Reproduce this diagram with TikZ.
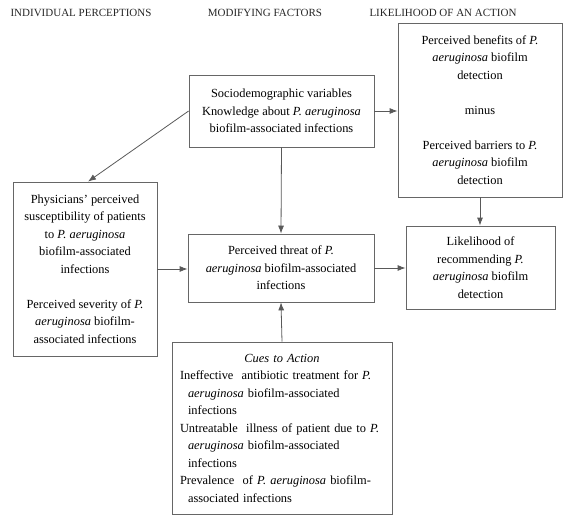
\documentclass[tikz,border=0pt]{standalone}
\usepackage{fontspec}
\setmainfont{Liberation Serif}
\usetikzlibrary{arrows.meta}
\begin{document}
\begin{tikzpicture}[x=1pt,y=-1pt,
  box/.style={draw=black!60, line width=0.8pt, inner sep=0pt, align=center,
    font=\fontsize{12.4}{17.5}\selectfont},
  hdr/.style={anchor=base, inner sep=0pt, font=\fontsize{11}{13}\selectfont, text=black!85},
  arr/.style={draw=black!65, line width=0.8pt, -{Latex[length=8pt,width=6pt]}}]
\useasboundingbox (0,0) rectangle (565,516);

\node[hdr] (h1) at (81,17) {INDIVIDUAL PERCEPTIONS};
\node[hdr] (h2) at (265,17) {MODIFYING FACTORS};
\node[hdr] (h3) at (443,17) {LIKELIHOOD OF AN ACTION};

\node[box, minimum width=185pt, minimum height=72pt] (socio) at (281.5,111)
  {Sociodemographic variables\\Knowledge about \textit{P. aeruginosa}\\biofilm-associated infections};

\node[box, minimum width=164pt, minimum height=174pt] (ben) at (480,110)
  {Perceived benefits of \textit{P.}\\\textit{aeruginosa} biofilm\\detection\\[17.5pt]minus\\[17.5pt]Perceived barriers to \textit{P.}\\\textit{aeruginosa} biofilm\\detection};

\node[box, minimum width=149pt, minimum height=83pt] (like) at (480.5,267.5)
  {Likelihood of\\recommending \textit{P.}\\\textit{aeruginosa} biofilm\\detection};

\node[box, minimum width=144pt, minimum height=174pt] (phys) at (85,269)
  {Physicians' perceived\\susceptibility of patients\\to \textit{P. aeruginosa}\\biofilm-associated\\infections\\[17.5pt]Perceived severity of \textit{P.}\\\textit{aeruginosa} biofilm-\\associated infections};

\node[box, minimum width=186pt, minimum height=68pt] (threat) at (281,268)
  {Perceived threat of \textit{P.}\\\textit{aeruginosa} biofilm-associated\\infections};

\node[box, align=left, text width=204pt, minimum width=220pt, minimum height=172pt] (cues) at (282,428)
  {\makebox[204pt]{\textit{Cues to Action}}\\
   Ineffective\ \ antibiotic treatment for \textit{P.}\\
   \hspace*{8pt}\textit{aeruginosa} biofilm-associated\\
   \hspace*{8pt}infections\\
   Untreatable\ \ illness of patient due to \textit{P.}\\
   \hspace*{8pt}\textit{aeruginosa} biofilm-associated\\
   \hspace*{8pt}infections\\
   Prevalence\ \ of \textit{P. aeruginosa} biofilm-\\
   \hspace*{8pt}associated infections};

\draw[arr] (socio.west) -- ([xshift=3pt]phys.north);
\draw[arr] (socio.east) -- (socio.east -| ben.west);
\draw[arr] (socio.south) -- (threat.north);
\draw[arr] (cues.north) -- (threat.south);
\draw[arr] (phys.east) -- (phys.east -| threat.west);
\draw[arr] (threat.east) -- (threat.east -| like.west);
\draw[arr] (ben.south) -- (ben.south |- like.north);
\end{tikzpicture}
\end{document}
